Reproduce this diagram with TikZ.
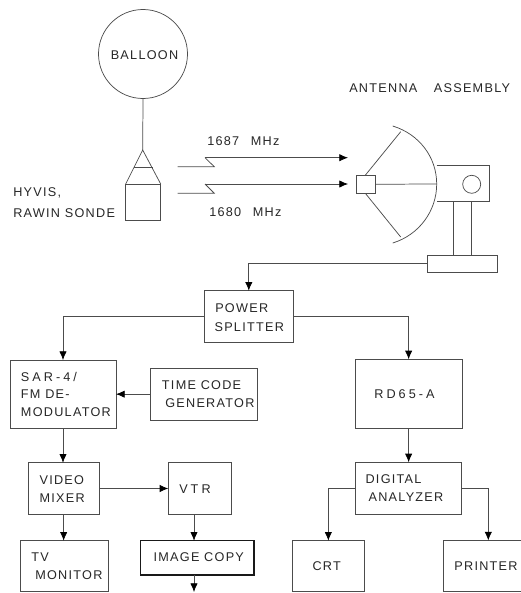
\documentclass[tikz,border=0pt]{standalone}
\usepackage{fontspec}
\setmainfont{Liberation Sans}[LetterSpace=10]
\newfontfamily\widefont{Liberation Sans}[LetterSpace=24]
\usetikzlibrary{arrows.meta}
\tikzset{
 ln/.style={line width=0.55pt,draw=black!70},
 arr/.style={ln,-{Latex[length=6.5pt,width=5.5pt,black]}},
 blockbox/.style={ln,draw,inner sep=0pt,outer sep=0pt,anchor=north west},
 txt/.style={font=\fontsize{9.5}{13}\selectfont,align=left,anchor=west,inner sep=0pt,text=black!85},
 ctxt/.style={txt,anchor=center},
}
\begin{document}
\begin{tikzpicture}[x=0.75pt,y=-0.75pt]
\useasboundingbox (0,0) rectangle (521,593);
% balloon
\node[ln,draw,circle,minimum size=89*0.75pt,inner sep=0pt,outer sep=0pt] (balloon) at (143,54) {};
\node[ctxt] (balloontxt) at (144.5,55) {BALLOON};
\coordinate (apex) at (142.7,150);
\draw[ln] (balloon.south) -- (apex);
% sonde
\node[blockbox,minimum width=35*0.75pt,minimum height=36*0.75pt] (sonde) at (125.7,184) {};
\coordinate (barL) at (134,167);
\coordinate (barR) at (152.7,167);
\draw[ln] (sonde.north west) -- (apex) -- (sonde.north east);
\draw[ln] (barL) -- (barR);
\node[txt] (hyvis) at (13,193) {HYVIS,};
\node[txt] (rawin) at (13,213) {RAWIN SONDE};
% links
\coordinate (a1) at (177.7,166.7); \coordinate (a2) at (214.3,166.7); \coordinate (a3) at (205,157.7);
\coordinate (b1) at (177.7,193.3); \coordinate (b2) at (214.3,193.3); \coordinate (b3) at (205,184);
\coordinate (e1) at (348,157.7); \coordinate (e2) at (348,184);
\draw[ln] (a1) -- (a2) -- (a3);
\draw[arr] (a3) -- (e1);
\draw[ln] (b1) -- (b2) -- (b3);
\draw[arr] (b3) -- (e2);
\node[txt] (f1) at (207,141) {1687\ \ \,MHz};
\node[txt] (f2) at (209,212) {1680\ \ \,MHz};
\node[txt] (ant) at (349,88.5) {ANTENNA\ \ \ \,ASSEMBLY};
% antenna
\node[blockbox,minimum width=19*0.75pt,minimum height=18.5*0.75pt] (feed) at (356,175) {};
\coordinate (dishT) at (392.7,126);
\coordinate (dishM) at (436.7,184);
\coordinate (rimT) at (400.7,131.7);
\coordinate (rimB) at (400.7,237);
\draw[ln] (dishT) .. controls (419,134) and (436.7,157) .. (dishM) .. controls (436.7,211) and (419,235) .. (392.7,243);
\draw[ln] (feed.north) -- (rimT);
\draw[ln] (feed.south) -- (rimB);
\draw[ln] (feed.east) -- (dishM);
\coordinate (hT) at (436.7,165.7); \coordinate (hB) at (436.7,201.7);
\coordinate (hTR) at (489.3,165.7); \coordinate (hBR) at (489.3,201.7);
\draw[ln] (hT) -- (hTR) -- (hBR) -- (hB);
\node[ln,draw,circle,minimum size=18*0.75pt,inner sep=0pt] (knob) at (471.7,184.3) {};
\node[blockbox,minimum width=70.4*0.75pt,minimum height=17.7*0.75pt] (base) at (427.3,255) {};
\coordinate (leg1) at (453.3,201.7); \coordinate (leg2) at (471,201.7);
\draw[ln] (leg1) -- (leg1 |- base.north);
\draw[ln] (leg2) -- (leg2 |- base.north);
% blocks
\node[blockbox,minimum width=89*0.75pt,minimum height=51.6*0.75pt] (ps) at (204.3,290.7) {};
\node[txt] at (215,308.5) {POWER};
\node[txt] at (214.3,326.7) {SPLITTER};
\node[blockbox,minimum width=106*0.75pt,minimum height=68.3*0.75pt] (sar) at (10,360) {};
\node[txt] at (20.7,377) {{\widefont SAR-4/}};
\node[txt] at (20.7,394.5) {FM DE-};
\node[txt] at (20.7,412) {MODULATOR};
\node[blockbox,minimum width=107*0.75pt,minimum height=51.7*0.75pt] (tc) at (150.7,368.3) {};
\node[txt] at (161.7,385) {TIME CODE};
\node[txt] at (165,403) {GENERATOR};
\node[blockbox,minimum width=70.7*0.75pt,minimum height=51.6*0.75pt] (vm) at (28.3,462.7) {};
\node[txt] at (39.3,480.3) {VIDEO};
\node[txt] at (39.3,498) {MIXER};
\node[blockbox,minimum width=63.4*0.75pt,minimum height=51.6*0.75pt] (vtr) at (168.3,462.7) {};
\node[txt] at (179,489) {{\widefont VTR}};
\node[blockbox,minimum width=88.3*0.75pt,minimum height=51*0.75pt] (tv) at (20,540.7) {};
\node[txt] at (31,556.7) {TV};
\node[txt] at (35,575) {MONITOR};
\node[blockbox,line width=1.1pt,draw=black!90,minimum width=113.3*0.75pt,minimum height=34.3*0.75pt] (img) at (140.7,540.7) {};
\node[txt] at (153.3,557.3) {IMAGE COPY};
\coordinate (imgx) at (194,592);
\node[blockbox,minimum width=106.7*0.75pt,minimum height=69*0.75pt] (rd) at (355.3,359.3) {};
\node[ctxt] at (404.5,393.7) {{\widefont RD65-A}};
\node[blockbox,minimum width=106.3*0.75pt,minimum height=52*0.75pt] (da) at (355,462.3) {};
\node[txt] at (365.3,479.3) {DIGITAL};
\node[txt] at (368.3,497.3) {ANALYZER};
\node[blockbox,minimum width=71.3*0.75pt,minimum height=51*0.75pt] (crt) at (292.7,540.7) {};
\node[ctxt] at (326.7,565.7) {CRT};
\node[blockbox,minimum width=90*0.75pt,minimum height=51*0.75pt] (pr) at (443.3,540.5) {};
\node[ctxt] at (486,565.7) {PRINTER};
% connectors
\draw[arr] (base.west) -| (ps.north);
\draw[arr] (ps.west) -| (sar.north);
\draw[arr] (ps.east) -| (rd.north);
\draw[arr] (tc.west) -- (tc.west -| sar.east);
\draw[arr] (sar.south) -- (sar.south |- vm.north);
\draw[arr] (vm.east) -- (vtr.west);
\draw[arr] (vm.south) -- (vm.south |- tv.north);
\draw[arr] (vtr.south -| imgx) -- (img.north -| imgx);
\draw[arr] (img.south -| imgx) -- (imgx);
\draw[arr] (rd.south) -- (rd.south |- da.north);
\draw[arr] (da.west) -| (crt.north);
\draw[arr] (da.east) -| (pr.north);
\end{tikzpicture}
\end{document}
